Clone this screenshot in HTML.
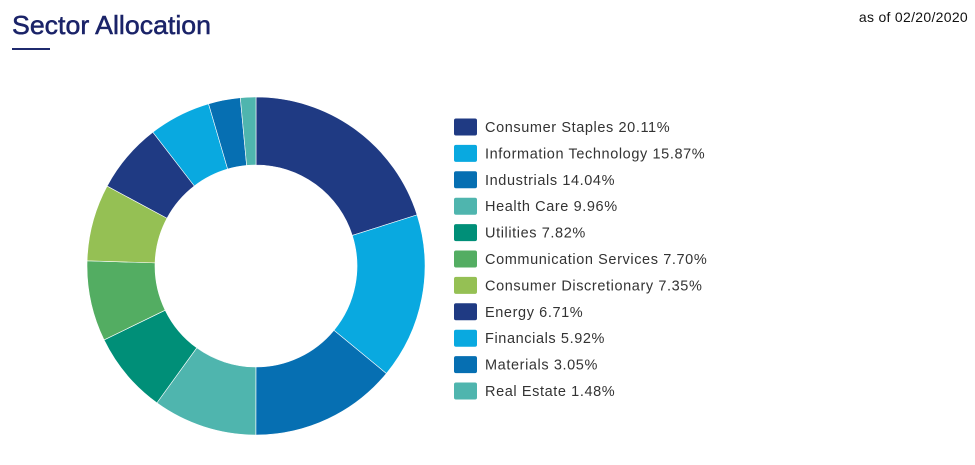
<!DOCTYPE html>
<html><head><meta charset="utf-8"><style>
html,body{margin:0;padding:0;background:#fff;width:975px;height:465px;overflow:hidden}
text{font-family:"Liberation Sans",Arial,sans-serif}
</style></head><body>
<svg id="s" width="975" height="465" xmlns="http://www.w3.org/2000/svg">
<text x="12" y="34" font-size="26" fill="#1a2368" stroke="#1a2368" stroke-width="0.5" textLength="199" lengthAdjust="spacingAndGlyphs">Sector Allocation</text>
<rect x="12" y="48" width="38" height="2" fill="#1f2a6e"/>
<text x="968" y="22" font-size="14" fill="#111" text-anchor="end" letter-spacing="0.3">as of 02/20/2020</text>
<g id="pie"></g>
<g id="leg"></g>
</svg>
<script>
var d=[["Consumer Staples",20.11,"#1f3a83"],["Information Technology",15.87,"#09a9e0"],["Industrials",14.04,"#066fb2"],["Health Care",9.96,"#4fb5ae"],["Utilities",7.82,"#008f78"],["Communication Services",7.70,"#53ad62"],["Consumer Discretionary",7.35,"#95c054"],["Energy",6.71,"#1f3a83"],["Financials",5.92,"#09a9e0"],["Materials",3.05,"#066fb2"],["Real Estate",1.48,"#4fb5ae"]];
var tot=0;d.forEach(function(e){tot+=e[1]});
var cx=256,cy=266,R=169,r=101,a=0,p="",l="";
function pt(rad,ang){return [cx+rad*Math.sin(ang),cy-rad*Math.cos(ang)];}
d.forEach(function(e,i){
 var a2=a+e[1]/tot*2*Math.PI,lg=(a2-a)>Math.PI?1:0;
 var p1=pt(R,a),p2=pt(R,a2),p3=pt(r,a2),p4=pt(r,a);
 p+='<path d="M'+p1+' A'+R+' '+R+' 0 '+lg+' 1 '+p2+' L'+p3+' A'+r+' '+r+' 0 '+lg+' 0 '+p4+'Z" fill="'+e[2]+'" stroke="#fff" stroke-width="0.6"/>';
 a=a2;
 var y=127+i*26.4;
 l+='<rect x="454" y="'+(y-8.5)+'" width="23" height="17" rx="2" fill="'+e[2]+'"/>';
 l+='<text x="485" y="'+(y+5)+'" font-size="14.5" letter-spacing="0.6" fill="#333">'+e[0]+' '+e[1].toFixed(2)+'%</text>';
});
document.getElementById("pie").innerHTML=p;
document.getElementById("leg").innerHTML=l;
</script>
</body></html>
